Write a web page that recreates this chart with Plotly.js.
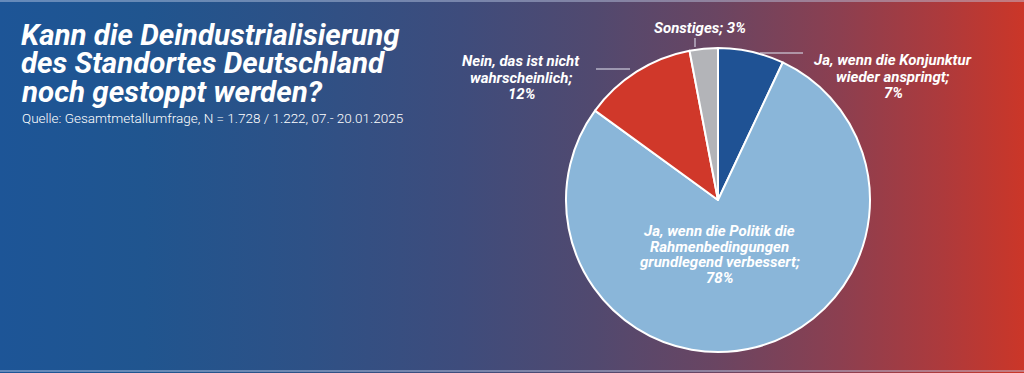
<!DOCTYPE html>
<html>
<head>
<meta charset="utf-8">
<script src="https://cdn.plot.ly/plotly-3.0.1.min.js"></script>
<style>
  html, body { margin: 0; padding: 0; }
  #chart {
    width: 1024px; height: 373px;
    background: linear-gradient(to right, #1d5597 0%, #20558f 14%, #2e5186 30%, #3e4c7c 45%, #51496f 58%, #6a4562 70%, #8c3f50 82%, #ad3a3c 92%, #cb3628 100%);
    position: relative;
  }
  #chart::before, #chart::after {
    content: ""; position: absolute; left: 0; right: 0; height: 2px;
    background: rgba(190, 205, 230, 0.45); z-index: 5; pointer-events: none;
  }
  #chart::before { top: 0; }
  #chart::after { bottom: 1px; }
</style>
</head>
<body>
<div id="chart"></div>
<script>
const titleLines = ["Kann die Deindustrialisierung", "des Standortes Deutschland", "noch gestoppt werden?"];
const subtitle = "Quelle: Gesamtmetallumfrage, N = 1.728 / 1.222, 07.- 20.01.2025";

const labels = [
  "Ja, wenn die Konjunktur|wieder anspringt",
  "Ja, wenn die Politik die|Rahmenbedingungen|grundlegend verbessert",
  "Nein, das ist nicht|wahrscheinlich",
  "Sonstiges"
];
const values = [7, 78, 12, 3];
const colors = ["#1f5294", "#8ab6d9", "#d0382a", "#b3b4b8"];

const W = 1024, H = 373;
const px = x => x / W, py = y => 1 - y / H;

const labelFont = { family: "Roboto", size: 15, color: "#ffffff", weight: 700, style: "italic" };
const titleFont = { family: "Roboto", size: 29.5, color: "#ffffff", weight: 700, style: "italic" };
const subFont = { family: "Roboto", size: 13.5, color: "#ffffff", weight: 300 };

const trace = {
  type: "pie",
  labels: labels.map(l => l.replace(/\|/g, " ")),
  values: values,
  sort: false,
  direction: "clockwise",
  rotation: 0,
  textinfo: "none",
  hoverinfo: "label+percent",
  marker: { colors: colors, line: { color: "#ffffff", width: 2 } },
  domain: { x: [px(566), px(870)], y: [py(352), py(48)] },
  showlegend: false
};

const annotations = [];
function addLines(lines, xc, yFirst, spacing, anchor, font) {
  lines.forEach((t, k) => annotations.push({
    text: t, x: px(xc), y: py(yFirst + k * spacing), xref: "paper", yref: "paper",
    xanchor: anchor, yanchor: "middle", align: anchor === "left" ? "left" : "center",
    showarrow: false, borderpad: 0, font: font
  }));
}
function sliceLines(i, joinPct) {
  const parts = labels[i].split("|");
  parts[parts.length - 1] += ";";
  if (joinPct) parts[parts.length - 1] += " " + values[i] + "%";
  else parts.push(values[i] + "%");
  return parts;
}

addLines(titleLines, 20, 35, 28.3, "left", titleFont);
addLines([subtitle], 21, 118, 0, "left", subFont);
addLines(sliceLines(3, true), 700, 28, 16.5, "center", labelFont);
addLines(sliceLines(2, false), 521, 61, 16.5, "center", labelFont);
addLines(sliceLines(0, false), 893, 60, 16.5, "center", labelFont);
addLines(sliceLines(1, false), 719, 231, 15.7, "center", labelFont);

const lineStyle = { color: "rgba(215,215,228,0.75)", width: 1.5 };
const shapes = [
  { x0: px(695), x1: px(695), y0: py(38), y1: py(47) },
  { x0: px(760), x1: px(803), y0: py(53), y1: py(53) },
  { x0: px(596), x1: px(630), y0: py(69), y1: py(69) }
].map(s => Object.assign({ type: "line", xref: "paper", yref: "paper", line: lineStyle }, s));

const layout = {
  width: W, height: H,
  margin: { l: 0, r: 0, t: 0, b: 0 },
  paper_bgcolor: "rgba(0,0,0,0)",
  plot_bgcolor: "rgba(0,0,0,0)",
  annotations: annotations,
  shapes: shapes
};

Plotly.newPlot("chart", [trace], layout, { displayModeBar: false, staticPlot: true });
</script>
</body>
</html>
